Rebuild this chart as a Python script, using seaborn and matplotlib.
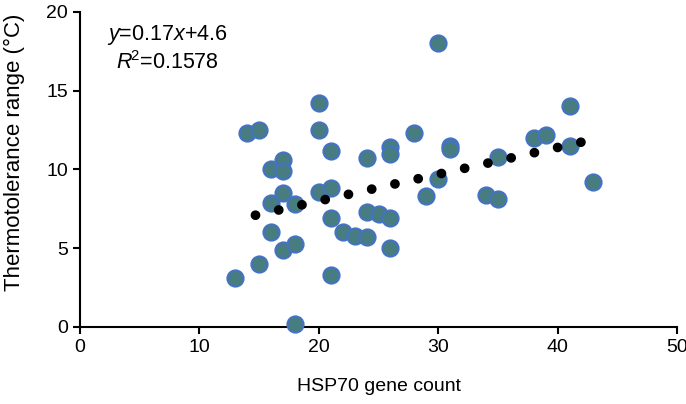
import numpy as np
import matplotlib
matplotlib.use("Agg")
import matplotlib.pyplot as plt
import seaborn as sns

# HSP70 gene count vs thermotolerance range
gene_count = [13, 14, 15, 15, 16, 16, 16, 17, 17, 17, 17, 18, 18, 18,
              20, 20, 20, 21, 21, 21, 21, 22, 23, 24, 24, 24, 25,
              26, 26, 26, 26, 28, 29, 30, 30, 31, 31, 34, 35, 35,
              38, 39, 41, 41, 43]
thermo_range = [3.1, 12.3, 12.5, 4.0, 10.0, 7.9, 6.0, 10.6, 9.9, 8.5, 4.9, 7.8, 5.3, 0.2,
                14.2, 12.5, 8.6, 11.2, 8.8, 6.9, 3.3, 6.0, 5.8, 10.7, 7.3, 5.7, 7.2,
                11.4, 11.0, 6.9, 5.0, 12.3, 8.3, 18.0, 9.4, 11.5, 11.3, 8.4, 10.8, 8.1,
                12.0, 12.2, 14.0, 11.5, 9.2]

# linear trendline as printed on the chart
slope = 0.17
intercept = 4.6
r_squared = 0.1578

sns.set_style("ticks")
plt.rcParams["font.family"] = ["Liberation Sans", "DejaVu Sans"]
plt.rcParams["mathtext.fontset"] = "custom"
plt.rcParams["mathtext.rm"] = "Liberation Sans"
plt.rcParams["mathtext.it"] = "Liberation Sans:italic"
for key in ["text.color", "axes.labelcolor", "xtick.color", "ytick.color"]:
    plt.rcParams[key] = "black"

fig = plt.figure(figsize=(6.86, 4.04), dpi=100)
ax = fig.add_axes([0.1166, 0.1906, 0.8704, 0.7797])

sns.scatterplot(x=gene_count, y=thermo_range, ax=ax, s=135,
                color="#477D80", edgecolor="#4472C4", linewidth=1.5,
                zorder=3, clip_on=False, legend=False)

trend_x = np.array([min(gene_count), max(gene_count)], dtype=float)
trend_y = slope * trend_x + intercept
ax.plot(trend_x, trend_y, color="black", linewidth=7,
        linestyle=(0.32, (0.01, 2.44)), dash_capstyle="round", zorder=4)

ax.text(0.045, 0.927, r"$y$=0.17$x$+4.6", transform=ax.transAxes,
        fontsize=15.5, ha="left", va="center")
ax.text(0.061, 0.841, r"$R^{\!2}$=" + f"{r_squared:.4f}", transform=ax.transAxes,
        fontsize=15.5, ha="left", va="center")

ax.set_xlim(0, 50)
ax.set_ylim(0, 20)
ax.set_xticks([0, 10, 20, 30, 40, 50])
ax.set_yticks([0, 5, 10, 15, 20])
ax.tick_params(labelsize=14, width=1.5, length=5, color="black")
for side in ["left", "bottom"]:
    ax.spines[side].set_linewidth(1.5)
    ax.spines[side].set_color("black")
sns.despine(ax=ax)

ax.set_xlabel("HSP70 gene count", fontsize=14, labelpad=16)
ax.set_ylabel("Thermotolerance range (°C)", fontsize=16)
ax.yaxis.set_label_coords(-0.092, 0.556)

fig.savefig("out.png", dpi=100)
